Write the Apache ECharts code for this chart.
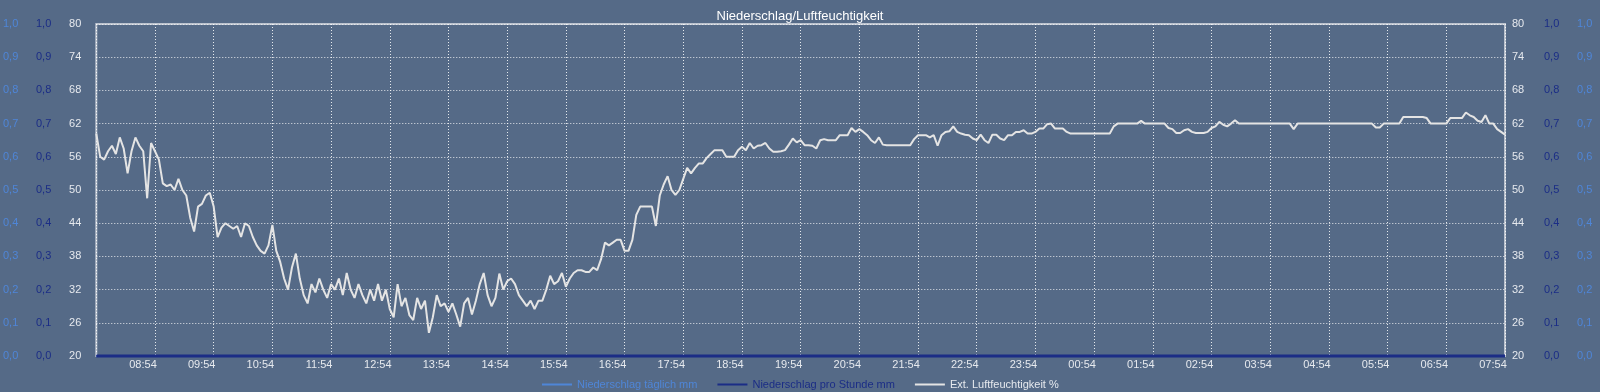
<!DOCTYPE html>
<html><head><meta charset="utf-8">
<script src="https://cdn.jsdelivr.net/npm/echarts@6/dist/echarts.min.js"></script>
<style>html,body{margin:0;padding:0;background:#556a87;}#chart{width:1600px;height:392px;}</style>
</head><body><div id="chart"></div>
<script>
// ---------- DATA ----------
const chartTitle = 'Niederschlag/Luftfeuchtigkeit';
const seriesNames = ['Niederschlag täglich mm', 'Niederschlag pro Stunde mm', 'Ext. Luftfeuchtigkeit %'];
const axisBaseLabel = '07:54';          // label at minute 0 of the axis
const humidityStepMin = 4;              // humidity sampled every 4 minutes, from minute 0 to 1440
const humidity = [
  60.2,56,55.5,57,58,56.5,59.5,57.5,53,57,59.5,58,57,48.5,58.5,
  57,55.5,51.2,50.7,51,50,52,50,49,45,42.5,47,47.5,49,49.5,
  47,41.5,43.2,44,43.5,43,43.5,41.5,44,43.5,41.5,40,39,38.5,40,
  43.7,39,37,34,32,36,38.5,34,31,29.5,33,31.5,34,32,30.5,
  33,32,34,31,35,32,30.5,33,31,29.5,32,30,33,30,32,
  28.5,27,33,29,30.5,27.4,26.5,30.5,28.5,30,24.2,27,31,29,29.5,
  28,29.5,27.5,25.3,29.5,30.5,27.5,30,33,35,31,29,30.5,34.9,32,
  33.5,34,33,31,30,29,30,28.5,30,30,32,34.5,33,33.5,35,
  32.5,34,35,35.5,35.5,35.2,35.2,36,35.5,37.5,40.5,40,40.5,41,41,
  39,39,41,45.5,47,47,47,47,43.5,49,51,52.5,50,49.1,50,
  52,54,53,54,54.8,54.8,55.8,56.5,57.2,57.2,57.2,56,56,56,57.2,
  57.8,57.2,58.5,57.5,58,58.1,58.5,57.5,56.9,56.9,57,57.2,58.2,59.3,58.6,
  59,58.1,58.1,58,57.5,59,59.2,59,59,59,59.9,59.9,59.9,61.2,60.5,
  61,60.5,59.9,59,58.5,59.5,58.2,58.1,58.1,58.1,58.1,58.1,58.1,58.1,59.2,
  59.9,59.9,59.9,59.5,59.9,58,59.9,60.5,60.6,61.5,60.5,60.2,60,59.9,59.3,
  59,60,59,58.5,60,60,59.3,59,59.9,59.9,60.5,60.5,60.8,60.2,60.2,
  60.5,61.1,61.1,61.9,62,61.1,61.1,61.1,60.5,60.2,60.2,60.2,60.2,60.2,60.2,
  60.2,60.2,60.2,60.2,60.2,61.5,62,62,62,62,62,62,62.5,62,62,
  62,62,62,62,61.2,61,60.3,60.3,60.8,61,60.5,60.3,60.3,60.3,60.5,
  61.2,61.5,62.3,61.8,61.5,62,62.6,62,62,62,62,62,62,62,62,
  62,62,62,62,62,62,61,62,62,62,62,62,62,62,62,
  62,62,62,62,62,62,62,62,62,62,62,62,61.3,61.3,62,
  62,62,62,62,63.2,63.2,63.2,63.2,63.2,63.2,63,62,62,62,62,
  62,63,63,63,63,64,63.5,63.2,62.5,62.3,63.5,62,62,61,60.5,
  60
];
const precipTimes  = [0,60,120,180,240,300,360,420,480,540,600,660,720,780,840,900,960,1020,1080,1140,1200,1260,1320,1380,1440];
const precipDaily  = [0,0,0,0,0,0,0,0,0,0,0,0,0,0,0,0,0,0,0,0,0,0,0,0,0];
const precipHourly = [0,0,0,0,0,0,0,0,0,0,0,0,0,0,0,0,0,0,0,0,0,0,0,0,0];
const humidityTicks = [20,26,32,38,44,50,56,62,68,74,80];
const precipRange = [0, 1];
const timeRange = [0, 1440];

// ---------- CHART ----------
const bg = '#556a87';
const lightBlue = '#4f86d8';
const darkBlue = '#1b2d86';
const humColor = '#e4e4e4';
const textColor = '#e6e9ee';
const font = '"Liberation Sans", Arial, sans-serif';

const baseMin = parseInt(axisBaseLabel.split(':')[0]) * 60 + parseInt(axisBaseLabel.split(':')[1]);
function fmtTime(t) {
  const m = ((baseMin + Math.round(t)) % 1440 + 1440) % 1440;
  return String(Math.floor(m / 60)).padStart(2, '0') + ':' + String(m % 60).padStart(2, '0');
}
function fmtDec(v) { return v.toFixed(1).replace('.', ','); }

const humData = humidity.map((v, i) => [i * humidityStepMin, v]);
const dailyData = precipTimes.map((t, i) => [t, precipDaily[i]]);
const hourlyData = precipTimes.map((t, i) => [t, precipHourly[i]]);

const noLine = { show: false };
function precipAxis(pos, offset, color, margin, split) {
  return {
    type: 'value', position: pos, offset: offset, min: precipRange[0], max: precipRange[1], interval: 0.1,
    axisLine: noLine, axisTick: noLine,
    splitLine: split ? { show: true, lineStyle: { color: 'rgba(255,255,255,0.85)', width: 1, type: [1, 2] } } : noLine,
    axisLabel: { color: color, fontSize: 11, fontFamily: font, margin: margin, formatter: fmtDec }
  };
}
function humAxis(pos, margin) {
  return {
    type: 'value', position: pos, offset: 0, min: humidityTicks[0], max: humidityTicks[humidityTicks.length - 1],
    axisLine: noLine, axisTick: noLine, splitLine: noLine,
    axisLabel: { customValues: humidityTicks, color: textColor, fontSize: 11, fontFamily: font, margin: margin }
  };
}

const chart = echarts.init(document.getElementById('chart'), null, { renderer: 'canvas' });
chart.setOption({
  backgroundColor: bg,
  animation: false,
  title: { text: chartTitle, left: 'center', top: 5, textStyle: { color: '#ffffff', fontSize: 13, fontWeight: 'normal', fontFamily: font } },
  legend: {
    left: 542, top: 379, padding: 0, itemWidth: 30, itemHeight: 2, itemGap: 20, icon: 'rect',
    textStyle: { fontSize: 11, fontFamily: font },
    data: [
      { name: seriesNames[0], textStyle: { color: lightBlue } },
      { name: seriesNames[1], textStyle: { color: darkBlue } },
      { name: seriesNames[2], textStyle: { color: textColor } }
    ]
  },
  grid: { left: 95, right: 95, top: 24, bottom: 36, show: true, borderColor: '#bcc3ce', borderWidth: 2, backgroundColor: 'transparent' },
  xAxis: {
    type: 'value', min: timeRange[0], max: timeRange[1], interval: 60,
    axisLine: noLine, axisTick: noLine,
    splitLine: { show: true, lineStyle: { color: 'rgba(255,255,255,0.85)', width: 1, type: [1, 2] } },
    axisLabel: { color: textColor, fontSize: 11, fontFamily: font, margin: 3, showMinLabel: false, showMaxLabel: true,
      padding: [0, 24, 0, 0], formatter: fmtTime }
  },
  yAxis: [
    precipAxis('left', 63, lightBlue, 15, false),
    precipAxis('left', 30, darkBlue, 15, true),
    humAxis('left', 15),
    humAxis('right', 7),
    precipAxis('right', 32, darkBlue, 7, false),
    precipAxis('right', 65, lightBlue, 7, false)
  ],
  series: [
    { name: seriesNames[0], type: 'line', yAxisIndex: 0, data: dailyData, symbol: 'none', clip: false,
      lineStyle: { color: lightBlue, width: 2 }, itemStyle: { color: lightBlue } },
    { name: seriesNames[1], type: 'line', yAxisIndex: 1, data: hourlyData, symbol: 'none', clip: false,
      lineStyle: { color: darkBlue, width: 3 }, itemStyle: { color: darkBlue } },
    { name: seriesNames[2], type: 'line', yAxisIndex: 2, data: humData, symbol: 'none',
      lineStyle: { color: humColor, width: 2 }, itemStyle: { color: humColor } }
  ]
});
</script></body></html>
